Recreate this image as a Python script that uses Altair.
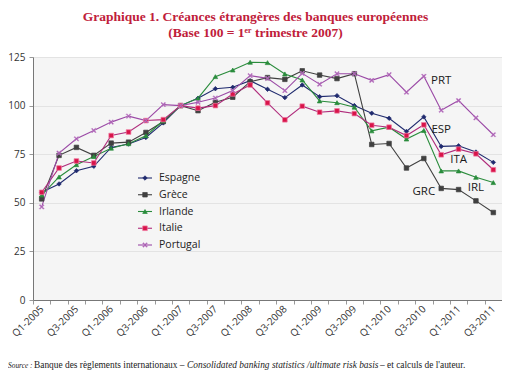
import altair as alt
import pandas as pd

quarters = ["Q1-2005", "Q2-2005", "Q3-2005", "Q4-2005",
            "Q1-2006", "Q2-2006", "Q3-2006", "Q4-2006",
            "Q1-2007", "Q2-2007", "Q3-2007", "Q4-2007",
            "Q1-2008", "Q2-2008", "Q3-2008", "Q4-2008",
            "Q1-2009", "Q2-2009", "Q3-2009", "Q4-2009",
            "Q1-2010", "Q2-2010", "Q3-2010", "Q4-2010",
            "Q1-2011", "Q2-2011", "Q3-2011"]

series = ["Espagne", "Grèce", "Irlande", "Italie", "Portugal"]

espagne = [55.4, 59.7, 66.5, 68.8, 78.5, 80.2, 83.6, 91.1, 100, 103.8, 108.7, 109.4, 112.8, 108.4,
           104.1, 110.6, 104.6, 105.1, 100.0, 96.1, 93.5, 86.7, 94.2, 79.0, 79.3, 76.1, 70.8]
grece = [52.0, 74.4, 78.5, 74.4, 80.7, 81.2, 86.2, 91.8, 100, 97.4, 101.7, 104.3, 112.3, 114.4,
         113.5, 117.9, 115.7, 113.9, 116.4, 80.0, 80.5, 67.9, 72.8, 57.4, 56.8, 51.0, 45.0]
irlande = [54.0, 63.3, 69.6, 73.8, 78.1, 80.4, 84.5, 92.2, 100, 103.8, 114.9, 118.3, 122.3, 122.1,
           116.3, 113.2, 102.4, 101.5, 99.2, 87.0, 88.9, 82.8, 87.2, 66.4, 66.4, 63.1, 60.4]
italie = [55.4, 67.9, 71.5, 70.5, 84.6, 86.4, 92.3, 92.8, 100, 98.7, 100.0, 106.0, 110.6, 101.4,
          92.7, 99.7, 96.6, 97.3, 95.9, 89.9, 88.9, 84.6, 90.1, 74.7, 77.6, 75.2, 67.0]
portugal = [47.9, 75.6, 82.9, 87.2, 91.5, 94.6, 92.3, 100.5, 100, 101.7, 103.9, 107.7, 115.4, 114.0,
            107.7, 116.6, 111.0, 116.4, 116.4, 113.0, 115.9, 106.9, 115.1, 97.6, 102.6, 93.7, 85.0]

y_ticks = [0, 25, 50, 75, 100, 125]

ann_text = ["PRT", "ESP", "ITA", "GRC", "IRL"]
ann_quarter = ["Q4-2010", "Q4-2010", "Q1-2011", "Q3-2010", "Q2-2011"]
ann_value = [112.7, 87.5, 72.0, 55.5, 57.5]

X_SHAPE = ("M-1,-0.7L-0.7,-1L0,-0.3L0.7,-1L1,-0.7L0.3,0L1,0.7L0.7,1L0,0.3"
           "L-0.7,1L-1,0.7L-0.3,0Z")

line_colors = ["#1f2a6e", "#404040", "#2a8c3c", "#b02c7c", "#9b4aa6"]
fill_colors = ["#1f2a6e", "#404040", "#2a8c3c", "#d8144a", "#9b4aa6"]
stroke_colors = ["#1f2a6e", "#404040", "#2a8c3c", "#f07aa0", "#c58acb"]
shapes = ["diamond", "square", "triangle-up", "square", X_SHAPE]
sizes = [20, 22, 26, 22, 30]

values_by_series = [espagne, grece, irlande, italie, portugal]
rows = []
for s, vals in zip(series, values_by_series):
    for q, v in zip(quarters, vals):
        rows.append({"series": s, "quarter": q, "value": v})
df = pd.DataFrame(rows)
ann_df = pd.DataFrame({"label": ann_text, "quarter": ann_quarter, "value": ann_value})
leg_df = pd.DataFrame({"series": series})
one = pd.DataFrame({"k": [0]})

FONT = "Open Sans"

x_enc = alt.X("quarter:O", sort=quarters, bandPosition=0.5, title=None,
              scale=alt.Scale(type="band", paddingInner=0, paddingOuter=0),
              axis=alt.Axis(tickBand="extent", labelAngle=-45, labelAlign="right",
                            labelBaseline="middle", labelPadding=3, labelOverlap=False,
                            labelExpr="indexof(datum.label, 'Q1') == 0 || indexof(datum.label, 'Q3') == 0 ? datum.label : ''",
                            labelFont=FONT, labelFontSize=10, labelColor="#333333",
                            tickSize=4, tickColor="#999999", domainColor="#777777",
                            grid=False))
y_enc = alt.Y("value:Q", title=None,
              scale=alt.Scale(domain=[0, 125], nice=False, zero=True),
              axis=alt.Axis(values=y_ticks, labelFont=FONT, labelFontSize=10,
                            labelColor="#333333", labelPadding=4, tickSize=4,
                            tickColor="#999999", domainColor="#777777",
                            grid=True, gridColor="#e3e3e3"))

color_enc = alt.Color("series:N", scale=alt.Scale(domain=series, range=line_colors), legend=None)
fill_enc = alt.Fill("series:N", scale=alt.Scale(domain=series, range=fill_colors), legend=None)
stroke_enc = alt.Stroke("series:N", scale=alt.Scale(domain=series, range=stroke_colors), legend=None)
shape_enc = alt.Shape("series:N", scale=alt.Scale(domain=series, range=shapes), legend=None)
size_enc = alt.Size("series:N", scale=alt.Scale(domain=series, range=sizes), legend=None)

lines = alt.Chart(df).mark_line(strokeWidth=1.1).encode(
    x=x_enc, y=y_enc, color=color_enc, detail="series:N")
points = alt.Chart(df).mark_point(filled=True, strokeWidth=0.7, opacity=1).encode(
    x=x_enc, y="value:Q", fill=fill_enc, stroke=stroke_enc, shape=shape_enc, size=size_enc)
ann = alt.Chart(ann_df).mark_text(font=FONT, fontSize=11.5, color="#1a1a1a",
                                  align="center", baseline="middle").encode(
    x=alt.X("quarter:O", sort=quarters, bandPosition=0.5),
    y="value:Q", text="label:N")

src_y = 311
src1 = alt.Chart(one).mark_text(font="Liberation Serif", fontSize=7.4, fontStyle="italic",
                                align="left", baseline="alphabetic", color="#222222").encode(
    x=alt.value(-25), y=alt.value(src_y), text=alt.value("Source :"))
src2 = alt.Chart(one).mark_text(font="Liberation Serif", fontSize=9.4,
                                align="left", baseline="alphabetic", color="#222222").encode(
    x=alt.value(1), y=alt.value(src_y),
    text=alt.value("Banque des règlements internationaux – "))
src3 = alt.Chart(one).mark_text(font="Liberation Serif", fontSize=9.4, fontStyle="italic",
                                align="left", baseline="alphabetic", color="#222222").encode(
    x=alt.value(154), y=alt.value(src_y),
    text=alt.value("Consolidated banking statistics /ultimate risk basis"))
src4 = alt.Chart(one).mark_text(font="Liberation Serif", fontSize=9.4,
                                align="left", baseline="alphabetic", color="#222222").encode(
    x=alt.value(347), y=alt.value(src_y),
    text=alt.value("– et calculs de l'auteur."))

main = alt.layer(lines, points, ann, src1, src2, src3, src4)

leg_y = alt.Y("series:N", sort=series, axis=None, title=None,
              scale=alt.Scale(type="point", range=[121, 188], padding=0))
leg_rule = alt.Chart(leg_df).mark_rule(strokeWidth=1.1).encode(
    x=alt.value(105), x2=alt.value(119), y=leg_y, color=color_enc)
leg_pt = alt.Chart(leg_df).mark_point(filled=True, strokeWidth=0.7, opacity=1).encode(
    x=alt.value(112), y=leg_y, fill=fill_enc, stroke=stroke_enc, shape=shape_enc, size=size_enc)
leg_txt = alt.Chart(leg_df).mark_text(font=FONT, fontSize=10.5, color="#222222",
                                      align="left", baseline="middle").encode(
    x=alt.value(126), y=leg_y, text="series:N")
legend = alt.layer(leg_rule, leg_pt, leg_txt)

chart = alt.layer(main, legend).resolve_scale(y="independent").properties(
    width=469, height=243,
    autosize=alt.AutoSizeParams(type="none"),
    padding={"left": 25, "top": 49, "right": 0, "bottom": 70},
    background="white",
    title=alt.TitleParams(
        text=["Graphique 1. Créances étrangères des banques européennes",
              "(Base 100 = 1ᵉʳ trimestre 2007)"],
        font="Liberation Serif", fontSize=13.5, fontWeight="bold", color="#c0203a",
        anchor="middle", dx=-12, offset=13, lineHeight=16),
).configure_view(fill="#f5f5f5", stroke=None)

chart.save("out.html", embed_options={"renderer": "svg", "actions": False})
